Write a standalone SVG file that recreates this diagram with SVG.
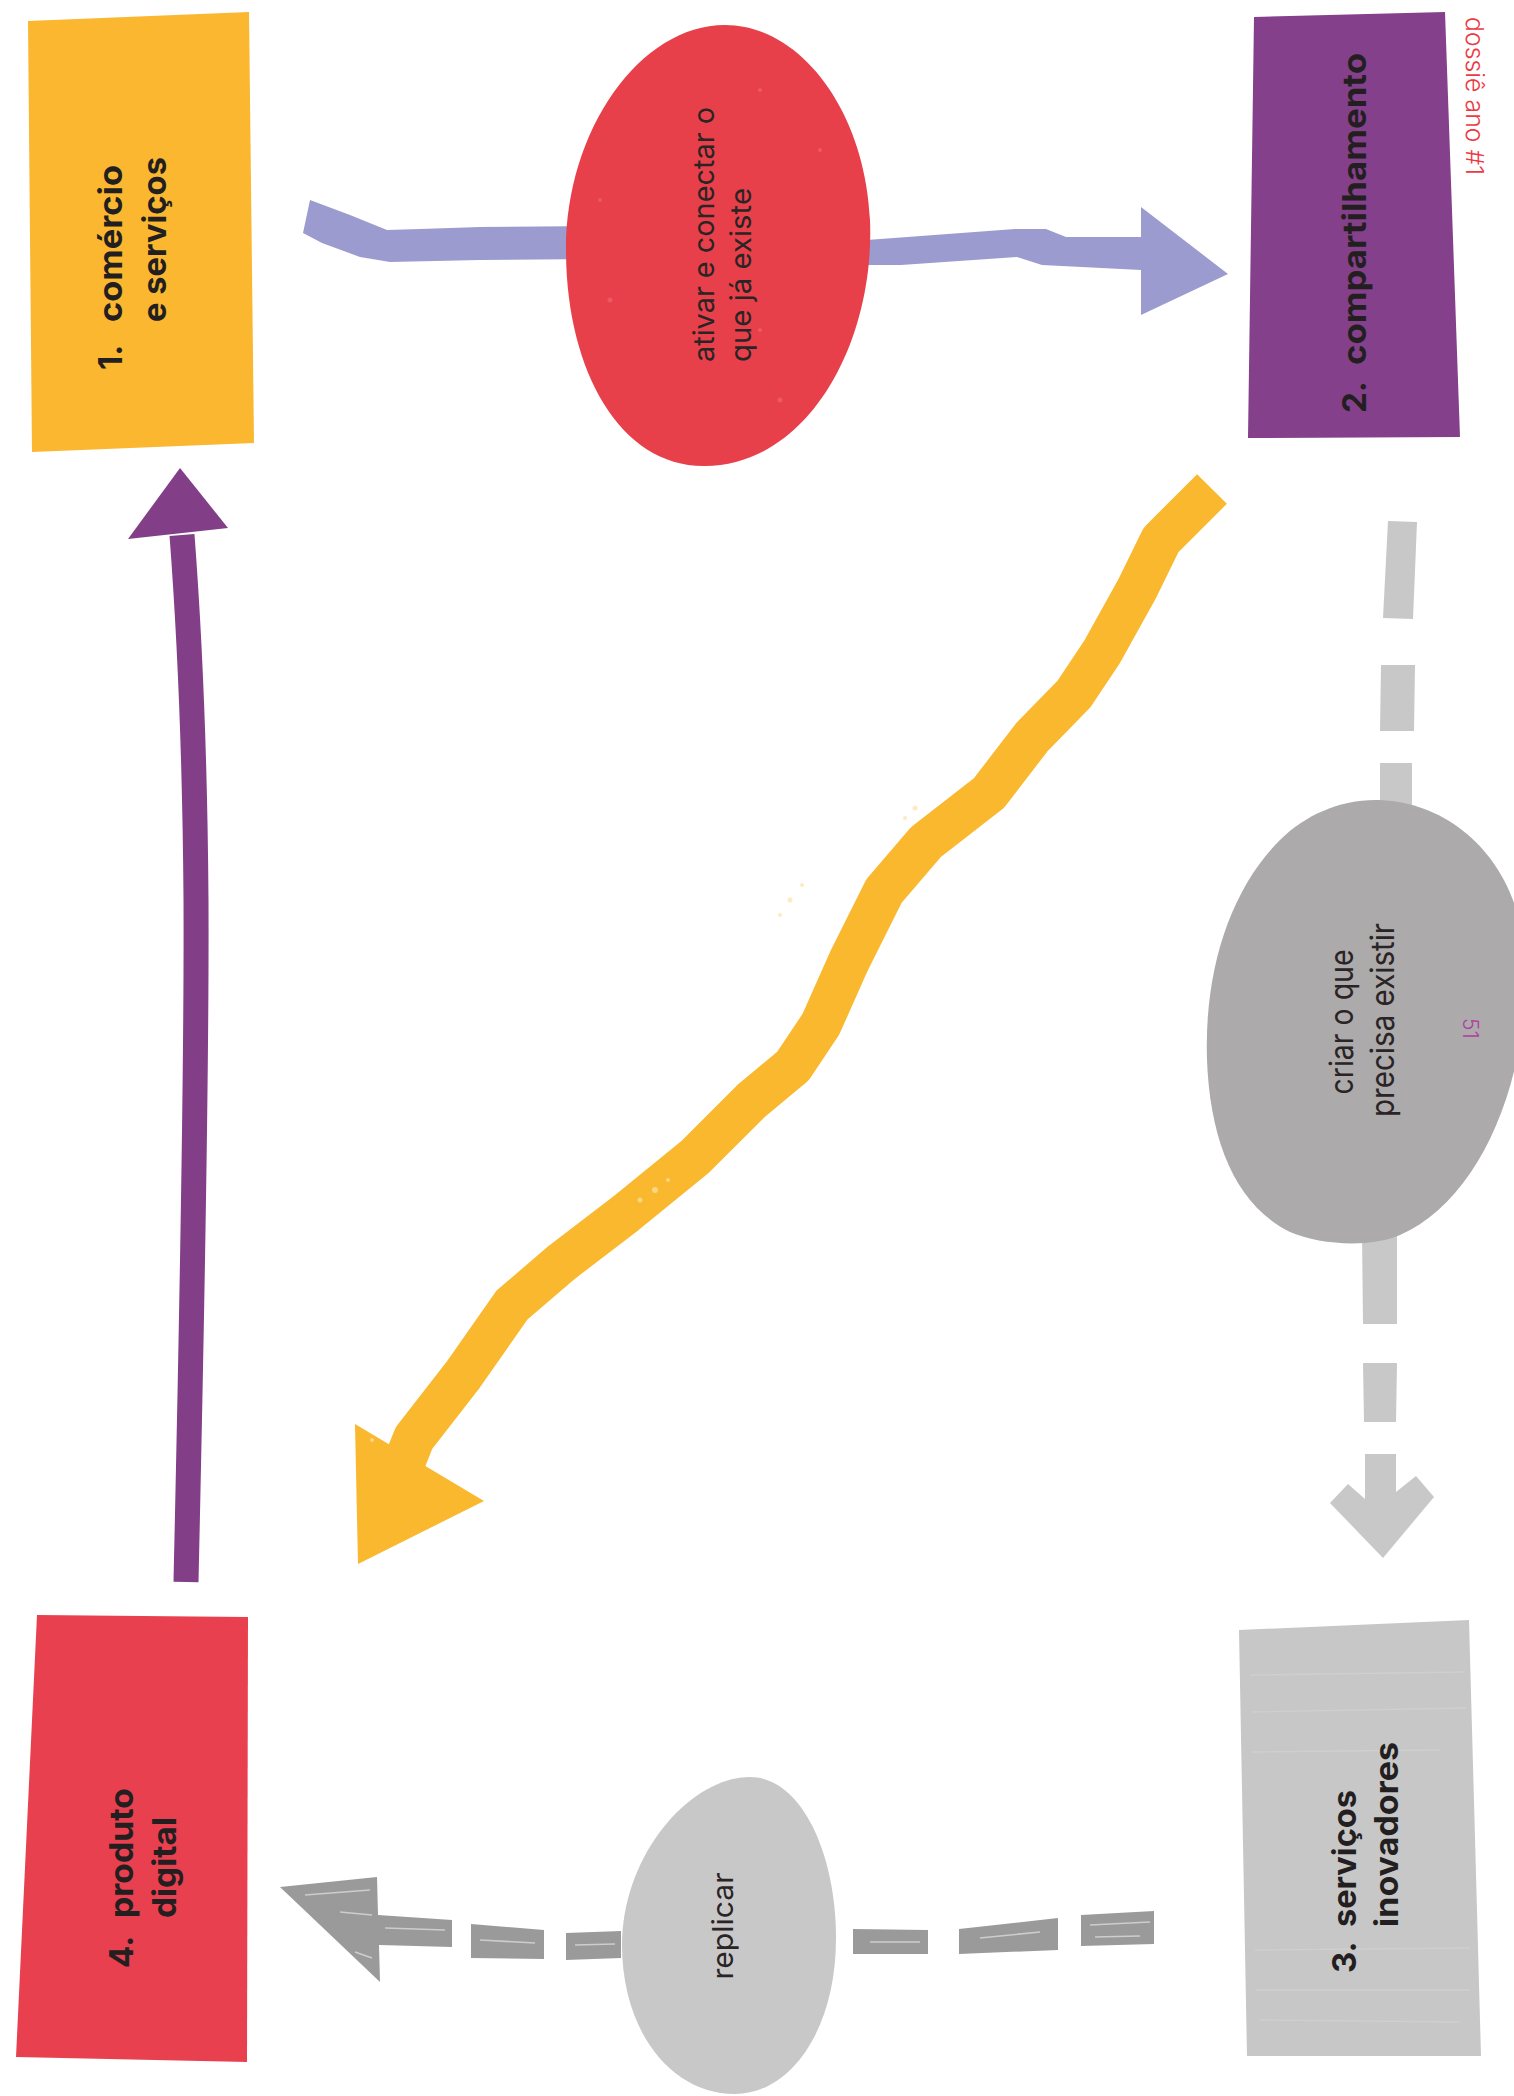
<svg xmlns="http://www.w3.org/2000/svg" width="1514" height="2096" viewBox="0 0 1514 2096">
<style>
.bold{font-family:Inter,"Liberation Sans",Arial,sans-serif;font-weight:bold;font-size:33px;fill:#231f20}
.reg{font-family:Inter,"Liberation Sans",Arial,sans-serif;font-size:29px;fill:#2a2425}
.cond{font-family:Inter,"Liberation Sans",Arial,sans-serif;font-size:32px;fill:#2a2425}
.dash{fill:#c9c8c8}
.ddash{fill:#9b9a9a}
.streak{stroke:#ffffff;stroke-width:1.6;stroke-opacity:0.5;fill:none}
.paper{stroke:#ffffff;stroke-width:1.4;stroke-opacity:0.15;fill:none}
</style>
<rect x="0" y="0" width="1514" height="2096" fill="#ffffff"/>

<g id="connectors">
  <!-- 1 -> 2 lavender -->
  <g id="edge-1-2" fill="#9c9bcf">
    <polygon points="310,200 350,215 387,230 420,229 480,227 600,226 600,259 480,260 390,262 360,257 322,243 303,233"/>
    <polygon points="840,242 1015,229 1046,229 1066,237 1141,237 1141,207 1228,274 1141,315 1141,270 1042,265 1017,257 901,265 840,265"/>
  </g>
  <!-- 2 -> 4 yellow wavy -->
  <g id="edge-2-4">
    <path d="M1212,489 L1161,540 L1137,589 L1102,652 L1074,694 L1032,737 L989,793 L926,842 L884,891 L849,961 L821,1024 L793,1066 L751,1101 L695,1157 L625,1214 L561,1263 L512,1305 L463,1375 L414,1438 L398,1478" fill="none" stroke="#f9b82e" stroke-width="42" stroke-linejoin="round"/>
    <polygon points="355,1424 484,1501 358,1564" fill="#f9b82e"/>
    <g fill="#fde3a8" opacity="0.7">
      <circle cx="655" cy="1190" r="3"/><circle cx="668" cy="1180" r="2"/><circle cx="640" cy="1200" r="2.5"/>
      <circle cx="790" cy="900" r="2.5"/><circle cx="802" cy="885" r="2"/><circle cx="780" cy="915" r="2"/>
      <circle cx="905" cy="818" r="2"/><circle cx="915" cy="808" r="2.5"/><circle cx="372" cy="1440" r="2"/>
    </g>
  </g>
  <!-- 2 -> 3 light gray dashed -->
  <g id="edge-2-3" class="dash">
    <polygon points="1388,521 1417,522 1413,619 1383,618"/>
    <polygon points="1381,665 1415,665 1414,731 1380,731"/>
    <polygon points="1380,763 1412,763 1412,820 1380,820"/>
    <polygon points="1362,1230 1397,1230 1397,1324 1363,1324"/>
    <polygon points="1363,1363 1397,1363 1396,1422 1364,1422"/>
    <polygon points="1365,1454 1396,1454 1396,1492 1416,1476 1434,1497 1383,1558 1330,1503 1348,1484 1365,1499"/>
  </g>
  <!-- 3 -> 4 dark gray dashed -->
  <g id="edge-3-4">
    <g class="ddash">
      <polygon points="1081,1915 1154,1911 1154,1944 1081,1946"/>
      <polygon points="959,1929 1058,1918 1058,1950 959,1954"/>
      <polygon points="853,1929 928,1930 928,1954 853,1954"/>
      <polygon points="566,1933 621,1931 621,1958 566,1960"/>
      <polygon points="471,1924 544,1930 544,1959 471,1958"/>
      <polygon points="280,1887 377,1877 378,1915 452,1920 452,1947 379,1945 380,1982"/>
    </g>
    <path class="streak" d="M1090,1925 L1150,1922 M1095,1937 L1140,1936 M980,1938 L1040,1932 M870,1942 L920,1942 M480,1940 L535,1943 M575,1945 L615,1944 M305,1895 L370,1890 M340,1912 L372,1915 M385,1928 L445,1930 M355,1952 L372,1958"/>
  </g>
  <!-- 4 -> 1 purple -->
  <g id="edge-4-1">
    <path d="M186,1582 C190,1400 197,1100 196,900 C195,760 190,640 182,535" fill="none" stroke="#823f88" stroke-width="25"/>
    <polygon points="180,468 228,528 128,539" fill="#823f88"/>
  </g>
</g>

<g id="node-1">
  <polygon points="28,21 249,12 254,443 32,452" fill="#fbb730"/>
  <text class="bold" transform="translate(122,370) rotate(-90)">1.</text>
  <text class="bold" transform="translate(122,322) rotate(-90)" textLength="157" lengthAdjust="spacingAndGlyphs">comércio</text>
  <text class="bold" transform="translate(166,322) rotate(-90)" textLength="165" lengthAdjust="spacingAndGlyphs">e serviços</text>
</g>

<g id="node-ativar">
  <path d="M725,25 C800,25 865,110 870,220 C875,340 810,465 705,466 C620,467 566,370 566,250 C566,130 640,25 725,25 Z" fill="#e8404b"/>
  <g fill="#f06a72" opacity="0.6">
    <circle cx="600" cy="200" r="2"/><circle cx="610" cy="300" r="2.5"/><circle cx="760" cy="90" r="2"/><circle cx="820" cy="150" r="2"/><circle cx="780" cy="400" r="2.5"/><circle cx="760" cy="330" r="2"/>
  </g>
  <text class="reg" transform="translate(714,362) rotate(-90)" textLength="255" lengthAdjust="spacingAndGlyphs">ativar e conectar o</text>
  <text class="reg" transform="translate(751,362) rotate(-90)" textLength="174" lengthAdjust="spacingAndGlyphs">que já existe</text>
</g>

<g id="node-2">
  <polygon points="1254,17 1445,12 1460,437 1248,438" fill="#85408b"/>
  <text class="bold" transform="translate(1366,413) rotate(-90)">2.</text>
  <text class="bold" transform="translate(1366,365) rotate(-90)" textLength="312" lengthAdjust="spacingAndGlyphs">compartilhamento</text>
</g>

<g id="node-criar">
  <path d="M1375,800 C1450,800 1520,860 1525,960 C1530,1080 1480,1200 1400,1235 C1370,1248 1320,1245 1290,1232 C1235,1205 1210,1140 1207,1060 C1204,970 1230,890 1280,840 C1305,815 1340,800 1375,800 Z" fill="#acaaab"/>
  <text class="cond" text-anchor="middle" transform="translate(1353,1022) rotate(-90)" textLength="145" lengthAdjust="spacingAndGlyphs">criar o que</text>
  <text class="cond" text-anchor="middle" transform="translate(1394,1020) rotate(-90)" textLength="194" lengthAdjust="spacingAndGlyphs">precisa existir</text>
</g>

<g id="node-3">
  <polygon points="1239,1630 1469,1620 1481,2056 1247,2056" fill="#c8c7c8"/>
  <path class="paper" d="M1250,1675 L1465,1672 M1252,1712 L1466,1708 M1252,1752 L1440,1750 M1255,1950 L1470,1948 M1256,1990 L1470,1990 M1260,2020 L1460,2022"/>
  <text class="bold" transform="translate(1356,1973) rotate(-90)">3.</text>
  <text class="bold" transform="translate(1356,1927) rotate(-90)" textLength="137" lengthAdjust="spacingAndGlyphs">serviços</text>
  <text class="bold" transform="translate(1398,1927) rotate(-90)" textLength="185" lengthAdjust="spacingAndGlyphs">inovadores</text>
</g>

<g id="node-replicar">
  <path d="M750,1777 C800,1777 835,1850 836,1935 C837,2030 790,2094 735,2094 C670,2094 622,2030 622,1945 C622,1855 690,1777 750,1777 Z" fill="#c9c8c9"/>
  <text class="reg" text-anchor="middle" transform="translate(733,1926) rotate(-90)" textLength="107" lengthAdjust="spacingAndGlyphs">replicar</text>
</g>

<g id="node-4">
  <polygon points="37,1615 248,1617 247,2062 16,2057" fill="#e9404f"/>
  <text class="bold" transform="translate(133,1968) rotate(-90)">4.</text>
  <text class="bold" transform="translate(133,1918) rotate(-90)" textLength="130" lengthAdjust="spacingAndGlyphs">produto</text>
  <text class="bold" transform="translate(176,1918) rotate(-90)" textLength="101" lengthAdjust="spacingAndGlyphs">digital</text>
</g>

<g id="page-marks">
  <text transform="translate(1466,17) rotate(90)" textLength="158" lengthAdjust="spacingAndGlyphs" style="font-family:Inter,'Liberation Sans',sans-serif;font-weight:300;font-size:24px;fill:#ec3a44">dossiê ano #1</text>
  <text transform="translate(1463,1018) rotate(90)" style="font-family:Inter,'Liberation Sans',sans-serif;font-weight:300;font-size:21px;fill:#b03ea0">51</text>
</g>
</svg>
